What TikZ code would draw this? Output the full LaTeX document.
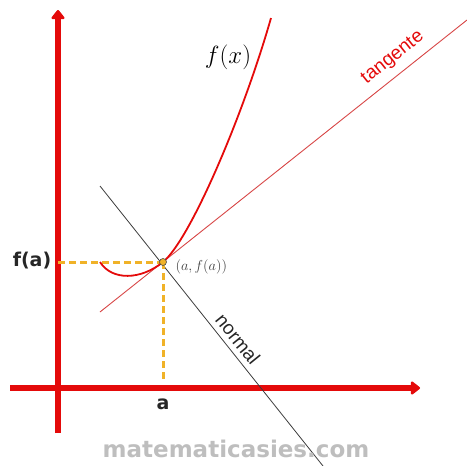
\documentclass[tikz,border=0pt]{standalone}
\usepackage{fontspec}
\usepackage{tikz}
\usetikzlibrary{arrows.meta,positioning,calc}
\newfontfamily\rotfont{Liberation Sans}
\newfontfamily\etiqfont{DejaVu Sans}
\definecolor{rojo}{RGB}{228,10,10}
\definecolor{rojoclaro}{RGB}{215,70,70}
\definecolor{naranja}{RGB}{240,178,40}
\definecolor{gris}{RGB}{60,60,60}
\definecolor{marca}{RGB}{190,190,190}
\tikzset{
  eje/.style={rojo,line width=6pt,-{Triangle[round,length=10pt,width=15pt]}},
  curva/.style={rojo,line width=1.8pt},
  tang/.style={rojoclaro,line width=0.9pt},
  norm/.style={gris,line width=0.8pt},
  guia/.style={naranja,line width=3pt,dash pattern=on 7pt off 4pt},
  punto/.style={circle,fill=naranja,draw=black!70,line width=0.6pt,inner sep=0pt,minimum size=7pt},
  etiq/.style={font=\etiqfont\bfseries\fontsize{19}{22}\selectfont,text=black!85},
}

\begin{document}
\begin{tikzpicture}[x=1pt,y=-1pt]
  \useasboundingbox (0,0) rectangle (467,466);
  % ejes
  \coordinate (xa0) at (10,388);  \coordinate (xa1) at (420,388);
  \coordinate (ya0) at (58,433);  \coordinate (ya1) at (58,10);
  \draw[eje] (xa0) -- (xa1);
  \draw[eje] (ya0) -- (ya1);
  % punto de tangencia y rectas
  \coordinate (P) at (163,262);
  \coordinate (t0) at (100,312);  \coordinate (t1) at (467,20);
  \coordinate (n0) at (100,186);  \coordinate (n1) at (323,466);
  \coordinate (yP) at (58,262);   \coordinate (xP) at (163,382);
  \draw[tang] (t0) -- (t1);
  \draw[norm] (n0) -- (n1);
  \draw[guia] (yP) -- (P);
  \draw[guia] (P) -- (xP);
  % la funcion
  \coordinate (c0) at (100,262);  \coordinate (c1) at (271,18);
  \draw[curva] (c0) .. controls (112,281) and (141,280) .. (P)
                    .. controls (190,240) and (243,116) .. (c1);
  \node[punto] (pt) at (P) {};
  % etiquetas
  \node[etiq] (fa) at (32,261) {f(a)};
  \node[etiq] (a) at (163,404) {a};
  \node[font=\fontsize{33}{36}\selectfont] (fx) at (228,57) {$f(x)$};
  \node[font=\fontsize{15}{17}\selectfont,text=black!75,anchor=west] (pa) at (172,267) {$(a,f(a))$};
  \node[font=\rotfont\fontsize{19}{22}\selectfont,text=rojo,rotate=38.5] (tg) at (393,58) {tangente};
  \node[font=\rotfont\fontsize{19}{22}\selectfont,text=black!85,rotate=-51] (nm) at (238,339) {normal};
  \node[font=\etiqfont\bfseries\fontsize{23}{26}\selectfont,text=marca] (wm) at (236,449) {matematicasies.com};
\end{tikzpicture}
\end{document}
